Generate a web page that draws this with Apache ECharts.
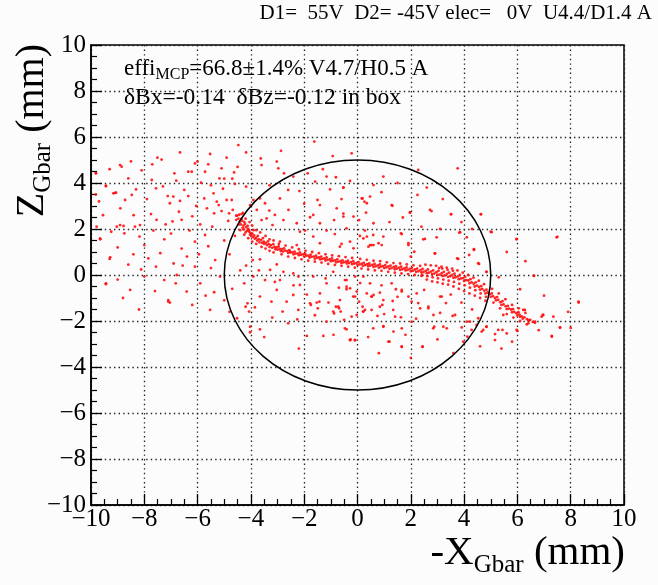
<!DOCTYPE html>
<html><head><meta charset="utf-8">
<script src="https://cdn.jsdelivr.net/npm/echarts@6/dist/echarts.min.js"></script>
<style>html,body{margin:0;padding:0;background:#fcfcfc}#c{width:658px;height:585px}</style>
</head><body><div id="c"></div>
<script>
// ---- data ----
var axisMin = -10, axisMax = 10, tickStep = 2;
var titleText = 'D1=  55V  D2= -45V elec=   0V  U4.4/D1.4 A';
var effiLabel = 'effi', effiSub = 'MCP', effiRest = '=66.8\u00b11.4% V4.7/H0.5 A';
var deltaText = '\u03b4Bx=-0.14  \u03b4Bz=-0.12 in box';
var xTitle = ['-X', 'Gbar', ' (mm)'];
var yTitle = ['Z', 'Gbar', ' (mm)'];
// acceptance circle: [centre x, centre z, radius] in mm
var circle = [[0, 0, 5]];

// dense band of hits (core)
var bandPoints = [
[-4.52,2.58],[-4.47,2.45],[-4.44,2.62],[-4.55,2.4],
[-4.41,2.32],[-4.36,2.44],[-4.38,2.2],[-4.33,2.36],
[-4.28,2.15],[-4.25,2.3],[-4.31,2.05],[-4.22,2.22],[-4.27,1.98],
[-4.18,2.08],[-4.15,1.92],[-4.12,2.14],[-4.2,1.85],[-4.1,2.0],
[-4.06,1.88],[-4.03,1.75],[-4.08,1.95],[-4.0,1.82],[-3.98,1.68],
[-3.95,1.8],[-3.92,1.65],[-3.9,1.95],[-3.88,1.72],[-3.85,1.58],
[-3.8,1.62],[-3.76,1.5],[-3.74,1.7],[-3.7,1.55],[-3.68,1.42],
[-3.62,1.52],[-3.58,1.4],[-3.55,1.6],[-3.52,1.45],[-3.5,1.35],
[-3.44,1.4],[-3.4,1.3],[-3.36,1.46],[-3.33,1.34],[-3.3,1.22],
[-3.25,1.3],[-3.2,1.18],[-3.16,1.34],[-3.12,1.22],[-3.08,1.12],
[-3.04,1.2],[-3.0,1.1],[-2.96,1.24],[-2.92,1.13],[-2.88,1.04],
[-2.84,1.12],[-2.8,1.02],[-2.76,1.16],[-2.72,1.06],
[-2.64,1.04],[-2.6,0.96],[-2.56,1.08],[-2.52,0.98],
[-2.44,0.98],[-2.4,0.9],[-2.36,1.02],[-2.32,0.93],
[-2.24,0.93],[-2.2,0.86],[-2.16,0.98],[-2.12,0.88],
[-2.04,0.9],[-2.0,0.8],[-1.96,0.92],[-1.92,0.84],
[-1.84,0.84],[-1.8,0.76],[-1.76,0.88],[-1.72,0.79],
[-1.64,0.8],[-1.6,0.71],[-1.56,0.84],[-1.52,0.75],
[-1.44,0.76],[-1.4,0.68],[-1.36,0.8],[-1.32,0.7],
[-1.24,0.72],[-1.2,0.63],[-1.16,0.76],[-1.12,0.66],
[-1.04,0.68],[-1.0,0.6],[-0.96,0.72],[-0.92,0.62],
[-0.84,0.64],[-0.8,0.55],[-0.76,0.68],[-0.72,0.58],
[-0.64,0.6],[-0.6,0.52],[-0.56,0.64],[-0.52,0.55],
[-0.44,0.58],[-0.4,0.5],[-0.36,0.62],[-0.32,0.52],
[-0.24,0.56],[-0.2,0.47],[-0.16,0.6],[-0.12,0.5],
[-0.04,0.52],[0.0,0.43],[0.04,0.56],[0.08,0.46],
[0.16,0.49],[0.2,0.4],[0.24,0.53],[0.28,0.43],
[0.36,0.47],[0.4,0.38],[0.44,0.5],[0.48,0.41],
[0.56,0.44],[0.6,0.35],[0.64,0.48],[0.68,0.38],
[0.76,0.42],[0.8,0.32],[0.84,0.46],[0.88,0.36],
[0.96,0.39],[1.0,0.3],[1.04,0.43],[1.08,0.33],
[1.16,0.37],[1.2,0.27],[1.24,0.41],[1.28,0.3],
[1.36,0.34],[1.4,0.25],[1.44,0.38],[1.48,0.28],
[1.56,0.32],[1.6,0.22],[1.64,0.36],[1.68,0.25],
[1.76,0.29],[1.8,0.2],[1.84,0.33],[1.88,0.22],
[1.96,0.26],[2.0,0.16],[2.04,0.3],[2.08,0.19],
[2.16,0.24],[2.2,0.14],[2.24,0.28],[2.28,0.16],
[2.36,0.21],[2.4,0.11],[2.44,0.26],[2.48,0.13],[2.42,0.0],
[2.56,0.18],[2.6,0.08],[2.64,0.24],[2.68,0.1],[2.62,-0.05],
[2.76,0.15],[2.8,0.04],[2.84,0.2],[2.88,0.06],[2.82,-0.1],
[2.96,0.12],[3.0,0.0],[3.04,0.18],[3.08,0.02],[3.02,-0.15],[3.06,0.3],
[3.16,0.08],[3.2,-0.04],[3.24,0.14],[3.28,-0.02],[3.22,-0.2],[3.18,0.28],
[3.36,0.05],[3.4,-0.08],[3.44,0.1],[3.48,-0.05],[3.42,-0.25],[3.38,0.22],
[3.56,0.0],[3.6,-0.12],[3.64,0.06],[3.68,-0.1],[3.62,-0.3],[3.58,0.18],
[3.76,-0.06],[3.8,-0.18],[3.84,0.0],[3.88,-0.15],[3.82,-0.38],
[3.96,-0.14],[4.0,-0.26],[4.04,-0.08],[4.08,-0.22],[4.02,-0.45],
[4.16,-0.24],[4.2,-0.36],[4.24,-0.18],[4.28,-0.32],[4.22,-0.55],
[4.36,-0.38],[4.4,-0.5],[4.44,-0.32],[4.48,-0.46],[4.42,-0.66],
[4.56,-0.52],[4.6,-0.64],[4.64,-0.48],[4.68,-0.6],[4.62,-0.8],
[4.76,-0.68],[4.8,-0.8],[4.84,-0.64],[4.88,-0.76],[4.82,-0.95],
[4.96,-0.84],[5.0,-0.95],[5.04,-0.8],[5.08,-0.92],
[5.16,-1.0],[5.2,-1.1],[5.24,-0.96],[5.28,-1.08],
[5.36,-1.18],[5.4,-1.3],[5.44,-1.14],[5.48,-1.28],
[5.56,-1.36],[5.6,-1.48],[5.64,-1.34],[5.68,-1.46],
[5.76,-1.5],[5.8,-1.62],[5.84,-1.48],[5.88,-1.6],
[5.96,-1.66],[6.0,-1.76],[6.04,-1.62],[6.08,-1.72],
[6.16,-1.8],[6.2,-1.9],[6.26,-1.84],
[6.36,-1.92],[6.42,-2.0],[6.48,-1.95],
[6.58,-2.04],[6.66,-2.08]
];

// looser hits bordering the band
var bandHalo = [
[-4.35,2.65],[-4.2,2.45],[-4.05,2.3],[-3.95,2.15],[-3.8,1.95],[-3.65,1.85],[-3.45,1.7],
[-3.3,1.55],[-3.15,1.5],[-4.4,1.95],[-4.25,1.75],[-4.1,1.6],[-3.95,1.45],[-3.8,1.35],
[-3.6,1.22],[-3.45,1.15],[-3.3,1.05],[-3.15,0.98],[-4.3,2.7],[-4.45,2.2],
[-2.95,1.35],[-2.7,1.28],[-2.45,1.2],[-2.2,1.12],[-1.95,1.05],[-1.7,1.0],[-1.45,0.95],
[-1.2,0.9],[-0.95,0.85],[-0.7,0.82],[-0.45,0.78],[-0.2,0.74],[-2.85,0.9],[-2.6,0.8],
[-2.35,0.74],[-2.1,0.68],[-1.85,0.62],[-1.6,0.58],[-1.35,0.54],[-1.1,0.48],[-0.85,0.44],
[-0.6,0.4],[-0.35,0.36],[-0.1,0.32],
[0.1,0.7],[0.35,0.66],[0.6,0.62],[0.85,0.6],[1.1,0.55],[1.35,0.52],[1.6,0.5],[1.85,0.46],
[2.1,0.42],[2.35,0.4],[0.15,0.28],[0.4,0.24],[0.65,0.2],[0.9,0.18],[1.15,0.14],[1.4,0.1],
[1.65,0.07],[1.9,0.04],[2.15,0.0],[2.4,-0.04],
[2.55,0.45],[2.75,0.42],[2.95,0.4],[3.15,0.36],[3.35,0.32],[3.55,0.28],[3.75,0.2],[3.95,0.1],
[4.15,0.0],[4.35,-0.12],[4.55,-0.25],[4.75,-0.4],[2.6,-0.2],[2.8,-0.28],[3.0,-0.32],[3.2,-0.38],
[3.4,-0.42],[3.6,-0.5],[3.8,-0.6],[4.0,-0.7],[4.2,-0.8],[4.4,-0.9],[4.6,-1.0],[4.8,-1.12],
[5.05,-0.6],[5.3,-0.8],[5.55,-1.05],[5.8,-1.3],[6.05,-1.45],[6.3,-1.65],[5.1,-1.2],[5.35,-1.45],
[5.6,-1.7],[5.85,-1.85],[6.1,-2.0],[6.35,-2.15]
];

// diffuse hits spread over the plane
var diffusePoints = [
[-4.47,5.65],[-6.66,5.33],[-5.53,5.26],[-4.18,5.33],[-2.87,5.4],[-1.62,5.8],
[-8.91,4.78],[-8.85,4.71],[-8.5,4.94],[-7.7,4.81],[-7.51,5.1],[-7.35,5.02],
[-6.87,4.42],[-6.35,4.49],[-6.22,4.49],[-6.1,4.85],[-6.0,4.93],[-5.6,4.81],
[-5.72,4.49],[-5.1,4.64],[-4.91,5.1],[-4.63,4.46],[-4.5,4.7],[-3.63,5.07],
[-3.6,4.78],[-3.03,4.93],[-2.97,4.64],[-0.93,5.17],
[-9.81,4.42],[-9.44,3.87],[-9.16,3.55],[-9.06,3.58],[-8.72,3.26],[-8.47,3.48],
[-8.31,3.72],[-7.72,4.13],[-7.56,3.77],[-7.12,3.43],[-6.91,3.41],[-6.66,3.22],
[-7.04,3.12],[-6.35,3.43],[-5.87,4.01],[-5.5,3.9],[-5.75,3.33],[-5.28,3.19],
[-5.21,3.04],[-4.91,3.26],[-4.72,3.26],[-5.1,2.78],[-4.82,2.68],[-4.68,2.83],
[-4.55,2.58],[-5.38,2.68],[-5.18,4.2],[-5.0,4.19],[-4.7,4.19],[-4.6,3.96],
[-4.18,3.84],[-3.91,3.26],[-3.66,3.33],[-3.47,3.12],[-3.31,2.8],[-3.1,2.61],
[-3.41,2.46],[-2.91,3.33],[-2.76,4.42],[-2.41,4.28],[-2.18,3.65],[-1.87,4.42],
[-1.59,4.06],[-1.5,3.26],[-1.41,3.04],[-1.16,4.28],[-1.03,3.72],[-0.81,4.25],
[-0.53,3.8],[-0.28,4.09],[0.16,3.33],[0.35,3.12],[0.47,3.41],[0.6,3.91],
[-9.66,1.59],[-9.24,1.88],[-9.03,2.1],[-8.91,2.17],[-8.78,2.13],[-8.35,2.1],
[-8.16,2.17],[-8.18,1.67],[-8.75,1.81],[-9.28,0.77],[-8.41,0.9],[-8.12,0.24],
[-7.85,0.72],[-7.54,2.4],[-7.66,1.93],[-7.56,0.36],[-7.25,1.55],[-6.94,2.33],
[-6.6,2.4],[-6.3,1.93],[-6.9,0.5],[-6.78,0.0],[-6.56,0.41],[-6.1,1.45],
[-6.1,0.36],[-5.72,1.74],[-5.34,0.65],[-5.16,-0.07],[-9.44,-0.36],[-8.53,-0.65],
[-8.0,-0.07],[-7.25,-0.22],[-7.1,-1.09],[-7.04,-1.2],[-6.82,-0.36],[-6.41,-0.72],
[-5.9,-0.36],[-5.38,-0.75],[-4.25,-0.36],[-4.18,0.41],[-3.93,0.65],[-3.66,0.68],
[-3.47,-0.22],[-3.23,-1.16],[-3.66,-0.94],[-3.03,0.46],[-2.78,0.14],[-2.53,1.01],
[-2.41,0.07],[-2.22,-0.07],[-1.97,1.93],[-1.78,2.51],[-1.66,1.67],[-1.43,-1.16],
[-1.16,1.93],[-0.85,1.78],[-0.66,-1.09],[-0.53,2.67],[-0.28,-0.58],[-0.03,-0.72],
[-0.09,-0.07],[0.35,-0.8],[0.6,-0.87],[0.41,1.23],[-2.66,-1.16],[-1.78,-1.23],
[-9.82,4.43],[-9.44,3.87],[-9.1,3.57],[-9.82,3.5],[-9.79,2.1],[-9.65,1.55],
[-9.3,0.7],[-9.44,-0.4],
[-4.03,3.04],[-3.78,2.83],[-3.6,2.39],[-3.19,2.17],[-2.78,2.39],[-2.59,2.83],
[-2.28,2.25],[-2.16,1.88],[-1.66,2.61],[-1.41,2.25],[-0.88,2.39],[-0.78,2.9],
[-0.41,2.03],[-0.15,2.54],[0.06,2.39],[0.28,1.93],[0.6,2.25],[-2.91,1.45],
[-2.28,1.3],[-1.41,1.38],[-0.66,1.23],[-0.15,1.16],[0.35,1.67],
[-3.91,-0.07],[-3.28,0.22],[-2.91,-0.22],[-2.16,-0.43],[-1.66,-0.07],[-1.16,-0.36],
[-0.91,0.14],[-0.41,-0.22],[0.22,-0.07],[0.47,-0.36],[-3.03,-0.65],[-2.41,-0.87],
[-1.41,-0.8],
[-5.53,-1.52],[-7.1,-1.16],[-4.52,-1.88],[-4.2,-1.38],[-4.07,-1.59],[-4.13,-1.23],
[-4.03,-2.25],[-4.03,-2.49],[-3.85,-1.41],[-3.66,-2.36],[-2.81,-1.59],[-2.22,-1.52],
[-2.26,-1.93],[-1.9,-2.65],[-1.75,-1.3],[-1.53,-1.2],[-1.49,-1.45],[-1.28,-2.65],
[-1.16,-2.03],[-1.09,-1.2],[-0.88,-1.67],[-0.81,-1.38],[-0.69,-1.45],[-0.63,-1.59],
[-0.41,-2.36],[-0.28,-2.83],[-0.1,-2.83],[-0.22,-1.81],[-0.03,-1.74],[0.06,-1.16],
[0.19,-1.38],[0.21,-1.59],[0.53,-1.52],[0.75,-1.78],
[1.28,3.04],[1.97,2.71],[2.72,2.83],[3.51,2.64],[4.63,2.64],[5.0,1.88],
[2.47,1.55],[1.63,1.81],[0.22,1.59],[0.53,1.3],[0.91,1.3],[0.59,1.74],
[1.91,1.38],[2.91,0.94],[3.82,1.84],[4.37,1.12],[3.74,0.72],[4.19,0.87],
[4.53,0.51],[4.84,0.14],[5.97,1.55],[6.62,-0.04],[7.5,1.66],[8.29,-1.16],
[7.29,-2.65],[7.6,-2.28],[6.97,-1.74],[6.66,-2.03],[6.41,-2.1],[6.1,-1.81],
[6.22,-1.52],[6.0,-2.43],[5.44,-2.39],[5.16,-2.57],[4.84,-2.25],[4.66,-2.46],
[4.47,-2.17],[4.1,-2.03],[4.12,-2.68],[3.97,-2.9],[3.91,-2.28],[3.57,-1.78],
[3.35,-2.32],[2.88,-2.25],[2.44,-3.12],[1.66,-3.12],[1.16,-2.9],[1.35,-2.46],
[0.97,-2.25],[1.41,-1.81],[0.84,-1.38],[0.97,-1.09],[1.44,-0.62],[1.66,-0.65],
[1.91,-0.94],[2.35,-1.45],[2.66,-1.38],[3.16,-0.94],[2.03,-1.16],[1.32,-1.13],
[0.22,-1.59],[0.53,-0.94],[-0.16,-0.94],[-0.41,-0.62],[-0.47,-0.22],[-0.72,-1.38],
[-0.91,-1.59],[-0.26,-2.8],[-0.09,-2.83],[0.59,-2.32],[1.63,-1.84],[2.85,-1.74],
[-0.47,-2.32],
[-0.22,5.29],[0.97,4.28],[2.28,4.57],[3.76,4.64],[-0.53,3.8],[0.19,3.33],
[0.26,3.19],[0.32,2.71],[1.31,3.01],[1.97,2.72],[2.25,3.48],[2.78,2.78],
[3.51,2.65],[4.63,2.65],[-0.53,2.54],[0.09,1.7],[0.97,1.67],[1.66,1.78],
[1.91,1.3],[2.53,1.57],[2.97,1.64],[3.85,1.86],[4.1,1.64],[5.03,1.86],
[5.97,1.57],[7.47,1.64],[4.37,1.09],[3.78,0.7],[2.9,0.94],[2.13,1.01],
[2.0,0.8],[0.47,1.3],[0.6,1.3],[0.79,1.38],[-0.28,1.45],[-0.6,1.35],
[4.56,0.48],[4.84,0.14],[6.1,-0.62],[6.62,-0.03],[8.3,-1.2],[7.6,-2.29],
[7.29,-2.68],[6.95,-1.74],[7.35,-1.81],
[-0.41,-0.51],[-0.09,-0.94],[0.53,-0.94],[0.84,-0.77],[0.93,-1.3],[1.28,-0.36],
[1.34,-1.52],[1.66,-0.72],[2.22,-0.8],[2.28,-1.22],[2.66,-1.45],[3.1,-0.94],
[3.32,-1.22],[3.66,-1.74],[2.84,-2.32],[3.22,-2.25],[2.03,-2.03],[1.66,-2.32],
[1.2,-2.9],[1.66,-3.12],[2.44,-3.12],[0.97,-2.22],[0.28,-1.52],[-0.28,-2.83],
[-0.09,-2.83],[4.22,-2.03],[4.28,-2.39],[4.53,-1.88],[4.72,-2.39],[4.84,-2.25],
[5.16,-2.83],[5.28,-2.39],[5.6,-2.54],[5.47,-1.74],[6.28,-1.52],[6.41,-1.96],
[6.91,-1.81],[5.97,-2.39],
[-9.3,4.6],[-8.6,4.2],[-8.1,4.55],[-7.9,3.3],[-7.3,3.85],[-6.8,4.1],[-6.5,3.7],
[-6.05,3.0],[-5.65,2.9],[-5.4,3.55],[-5.05,3.75],[-4.85,2.35],[-8.9,2.9],[-8.4,2.6],
[-7.75,2.65],[-7.2,2.2],[-6.7,2.75],[-6.2,2.55],[-5.9,2.2],[-5.45,2.1],[-9.55,2.6],[-9.7,3.2],
[-9.0,1.2],[-8.6,0.45],[-8.0,1.3],[-7.4,0.95],[-7.0,1.8],[-6.6,1.15],[-6.4,0.8],
[-5.95,0.9],[-5.6,1.25],[-5.5,0.3],[-5.0,1.5],[-4.8,0.9],[-4.6,1.7],[-4.4,0.2],[-4.7,-0.6],
[-8.8,-1.0],[-8.2,-1.5],[-7.6,-0.7],[-6.2,-1.3],[-5.7,-0.9],[-5.0,-1.1],[-4.8,-1.6],[-9.0,-0.2],
[-3.3,3.9],[-2.6,3.7],[-2.0,3.1],[-1.3,4.6],[-0.6,3.3],[0.9,3.6],[1.5,4.0],[2.6,3.8],
[3.2,3.3],[3.9,2.3],[4.3,2.0],[1.2,2.3],[1.7,2.5],[2.4,2.1],[3.1,2.0],[-3.7,0.2],
[-3.1,-0.3],[-2.4,-0.45],[-1.9,-0.85],[-1.2,-0.15],[-0.7,-0.55],[0.1,-0.35],[0.9,-0.45],
[1.5,-0.95],[2.5,-0.65],[3.5,-0.85],[3.9,-1.2],[4.3,-1.5],[3.1,-1.65],[2.2,-1.9],
[1.0,-1.7],[-0.5,-1.95],[-1.6,-1.75],[-2.6,-2.1],[-3.2,-1.85],[-0.9,-2.6],[0.4,-2.7],
[1.8,-2.6],[3.0,-2.8],[-3.5,-2.7],[-2.2,-3.2],[0.8,-3.4],[2.0,-3.6],[3.6,-3.4],
[5.6,1.0],[6.3,0.6],[5.3,-0.1],[7.0,-0.9],[7.9,-1.6],[6.8,-2.4],[5.8,-2.9],
[5.4,-3.2],[4.6,-3.1],[8.0,-2.3]
];

function fmt(v){ return v < 0 ? '\u2212' + Math.abs(v) : String(v); }

var serif = 'Liberation Serif';
var chart = echarts.init(document.getElementById('c'), null, {renderer: 'canvas'});

function axisCommon() {
  return {
    type: 'value', min: axisMin, max: axisMax, interval: tickStep,
    axisLine: {show: true, onZero: false, lineStyle: {color: '#000', width: 1.5}},
    axisTick: {show: true, inside: true, length: 11, lineStyle: {color: '#000', width: 1.3}},
    minorTick: {show: true, splitNumber: 4, length: 6, lineStyle: {color: '#000', width: 1.2}},
    splitLine: {show: true, lineStyle: {color: '#222', width: 1.3, type: [1.4, 3.2]}},
    axisLabel: {color: '#000', fontFamily: serif, fontSize: 25, formatter: fmt}
  };
}
var xa = axisCommon(); xa.axisLabel.margin = 2;
var ya = axisCommon(); ya.axisLabel.margin = 5;

var subRich = function(main, sub) {
  return {
    a: {fontFamily: serif, fontSize: main, color: '#000'},
    b: {fontFamily: serif, fontSize: sub, color: '#000', padding: [Math.round(main*0.55), 0, 0, 0]}
  };
};

var dotStyle = {color: '#ff1010', opacity: 0.9};

chart.setOption({
  backgroundColor: '#fcfcfc',
  animation: false,
  grid: {left: 91, right: 34, top: 45, bottom: 80, show: true, borderColor: '#000', borderWidth: 1.5},
  xAxis: xa,
  yAxis: ya,
  graphic: [
    {type: 'text', right: 6, top: 3, style: {text: titleText, font: '21px "Liberation Serif"', fill: '#000'}},
    {type: 'text', left: 124, top: 57, style: {
      text: '{a|' + effiLabel + '}{b|' + effiSub + '}{a|' + effiRest + '}',
      rich: subRich(23, 16)}},
    {type: 'text', left: 124, top: 86, style: {text: deltaText, font: '23.5px "Liberation Serif"', fill: '#000'}},
    {type: 'text', right: 33, top: 533, style: {
      text: '{a|' + xTitle[0] + '}{b|' + xTitle[1] + '}{a|' + xTitle[2] + '}',
      rich: subRich(41, 25)}},
    {type: 'text', x: 9, y: 44, rotation: Math.PI / 2, style: {
      text: '{a|' + yTitle[0] + '}{b|' + yTitle[1] + '}{a|' + yTitle[2] + '}',
      align: 'right', verticalAlign: 'top',
      rich: subRich(40, 25)}}
  ],
  series: [
    {type: 'scatter', data: diffusePoints, symbol: 'circle', symbolSize: 2.8,
     itemStyle: dotStyle, silent: true, z: 3},
    {type: 'scatter', data: bandHalo, symbol: 'circle', symbolSize: 2.8,
     itemStyle: dotStyle, silent: true, z: 3},
    {type: 'scatter', data: bandPoints, symbol: 'circle', symbolSize: 2.8,
     itemStyle: dotStyle, silent: true, z: 3},
    {type: 'custom', data: circle, silent: true, z: 4,
     renderItem: function(params, api) {
       var c = api.coord([api.value(0), api.value(1)]);
       var s = api.size([api.value(2), api.value(2)]);
       return {type: 'ellipse', shape: {cx: c[0], cy: c[1], rx: s[0], ry: s[1]},
               style: {fill: null, stroke: '#000', lineWidth: 1.5}};
     }}
  ]
});
</script>
</body></html>
